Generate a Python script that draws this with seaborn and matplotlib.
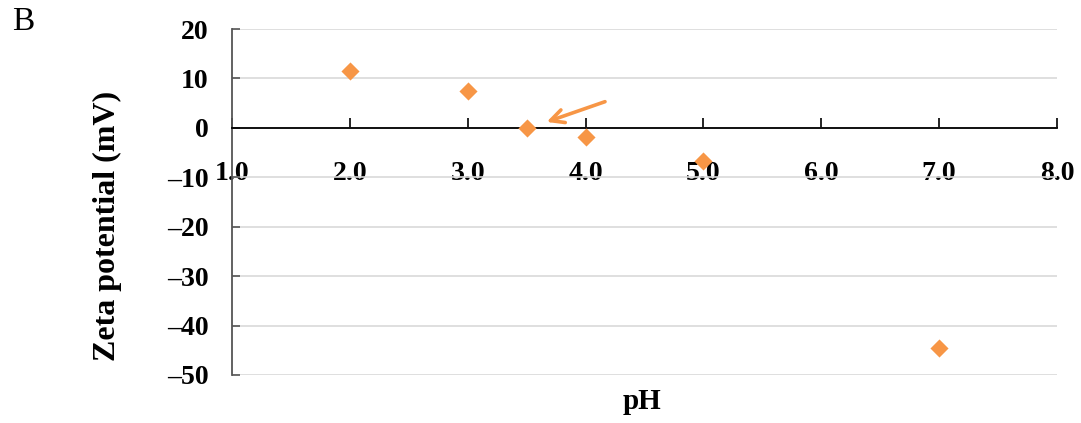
import matplotlib
matplotlib.use("Agg")
import matplotlib.pyplot as plt
import seaborn as sns
import pandas as pd

# data
ph_values = [2.0, 3.0, 3.5, 4.0, 5.0, 7.0]
zeta_values = [11.6, 7.4, 0.0, -1.8, -6.7, -44.6]
x_ticks = [1.0, 2.0, 3.0, 4.0, 5.0, 6.0, 7.0, 8.0]
y_ticks = [-50, -40, -30, -20, -10, 0, 10, 20]

sns.set_theme(style="white")
plt.rcParams['font.family'] = ['Liberation Serif', 'DejaVu Serif']
plt.rcParams['text.color'] = 'black'
plt.rcParams['xtick.color'] = 'black'
plt.rcParams['ytick.color'] = 'black'

orange = "#F79646"

fig = plt.figure(figsize=(10.81, 4.23), dpi=100)
ax = fig.add_axes([0.2146, 0.1135, 0.7632, 0.8179])

df = pd.DataFrame({"pH": ph_values, "zeta": zeta_values})
sns.scatterplot(data=df, x="pH", y="zeta", marker="D", s=85, color=orange,
                linewidth=0, ax=ax, zorder=5, clip_on=False)

ax.set_xlim(1, 8)
ax.set_ylim(-50, 20)
ax.set_xticks(x_ticks)
ax.set_xticklabels([f"{v:.1f}" for v in x_ticks])
ax.set_yticks(y_ticks)
ax.set_yticklabels([str(v).replace("-", "\u2013") for v in y_ticks])

ax.grid(axis="y", color="#d9d9d9", linewidth=1.2)
ax.grid(axis="x", visible=False)
ax.set_axisbelow(True)

for s in ["top", "right"]:
    ax.spines[s].set_visible(False)
ax.spines["bottom"].set_position(("data", 0))
ax.spines["bottom"].set_color("black")
ax.spines["bottom"].set_linewidth(1.3)
ax.spines["left"].set_color("#555555")
ax.spines["left"].set_linewidth(1.3)

ax.tick_params(axis="x", direction="in", length=7, width=1.2, color="black",
               pad=24, labelsize=20, labelcolor="black")
ax.tick_params(axis="y", direction="in", length=6, width=1.2, color="#555555",
               pad=17, labelsize=20, labelcolor="black", left=True)
ax.tick_params(axis="x", bottom=True)
for lab in ax.get_xticklabels() + ax.get_yticklabels():
    lab.set_fontweight("bold")

ax.set_xlabel("")
ax.set_ylabel("")
fig.text(0.594, 0.052, "pH", ha="center", va="center", fontsize=21, fontweight="bold")
fig.text(0.099, 0.466, "Zeta potential (mV)", ha="center", va="center",
         rotation=90, fontsize=23, fontweight="bold")
fig.text(0.011, 0.948, "B", ha="left", va="center", fontsize=24)

ax.annotate("", xy=(3.67, 1.2), xytext=(4.165, 5.3),
            arrowprops=dict(arrowstyle="->", color=orange, lw=2.6,
                            mutation_scale=24, shrinkA=0, shrinkB=0))

fig.savefig("out.png", dpi=100)
